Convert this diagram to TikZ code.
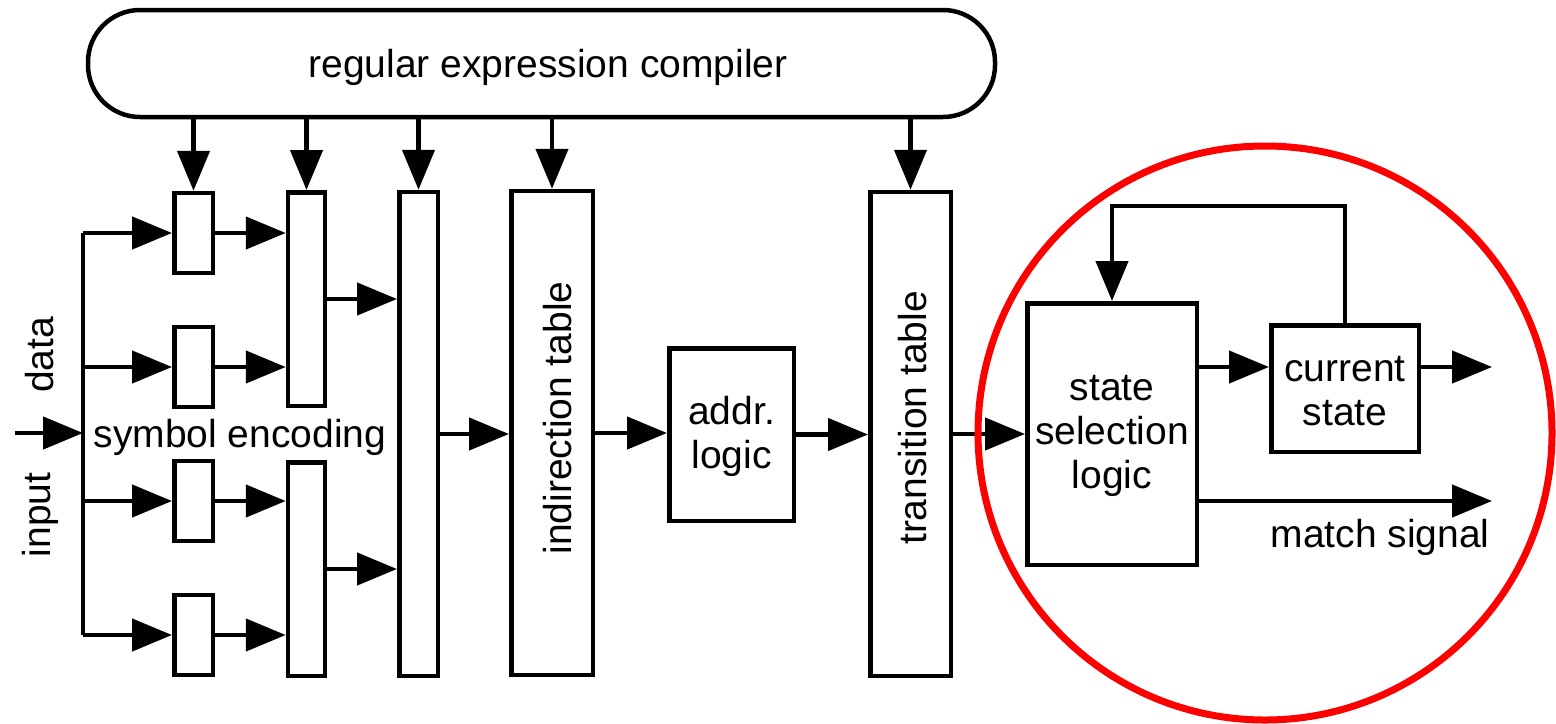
\documentclass[tikz,border=0pt]{standalone}
\usepackage{fontspec}
\setmainfont{Liberation Sans}
\usetikzlibrary{arrows.meta,calc}
\begin{document}
\begin{tikzpicture}[x=0.5pt,y=-0.5pt,
  every node/.style={font=\fontsize{19.5}{22}\selectfont},
  blk/.style={draw,line width=2.25pt,inner sep=0pt,fill=white},
  txt/.style={inner sep=0pt,align=center},
  arr/.style={line width=2.25pt,-{Triangle[length=20pt,width=16pt]}},
  ln/.style={line width=2.25pt}]
\useasboundingbox (0,0) rectangle (1556,723);

% compiler
\node[blk,rounded corners=26pt,minimum width=453.5pt,minimum height=53.5pt] (comp) at (541.5,63.5) {};
\node[txt] (comptxt) at (548,67) {regular expression compiler};

% small boxes
\foreach \n/\y in {s1/233,s2/367,s3/501,s4/635}
  \node[blk,minimum width=19.25pt,minimum height=40pt] (\n) at (193.5,\y) {};
% column 2
\node[blk,minimum width=18.5pt,minimum height=106.75pt] (c2a) at (306.5,299) {};
\node[blk,minimum width=18.5pt,minimum height=106.75pt] (c2b) at (306.5,569) {};
% column 3
\node[blk,minimum width=19.25pt,minimum height=242pt] (c3) at (418.5,434) {};
% indirection table
\node[blk,minimum width=40.75pt,minimum height=242pt] (ind) at (552,433) {};
\node[txt,rotate=90] (indtxt) at (558,418) {indirection table};
% addr logic
\node[blk,minimum width=62.25pt,minimum height=86.25pt] (addr) at (731.5,434.5) {};
\node[txt] (addrtxt) at (731.5,436) {addr.\\logic};
% transition table
\node[blk,minimum width=40.25pt,minimum height=242pt] (tt) at (910.5,434) {};
\node[txt,rotate=90] (tttxt) at (913,418) {transition table};
% state selection logic
\node[blk,minimum width=84.75pt,minimum height=130.75pt] (ssl) at (1112,434) {};
\node[txt] (ssltxt) at (1112,436) {state\\selection\\logic};
% current state
\node[blk,minimum width=73.75pt,minimum height=63.25pt] (cs) at (1345,388.5) {};
\node[txt] (cstxt) at (1345,391) {current\\state};

% labels
\node[txt,rotate=90] (data) at (40,355) {data};
\node[txt,rotate=90] (input) at (40,515) {input};
\node[txt] (symenc) at (240,437) {symbol encoding};
\node[txt,anchor=east] (match) at (1490,537) {match signal};

% compiler arrows
\foreach \t in {s1,c2a,c3,ind,tt}
  \draw[arr] (comp.south -| \t.north) -- (\t.north);

% input bus
\coordinate (in) at (15,433);
\coordinate (bus) at (83,433);
\draw[arr] (in) -- (bus);
\draw[ln] (83,233) -- (83,635);
\foreach \n in {s1,s2,s3,s4}
  \draw[arr] (bus |- \n.west) -- (\n.west);
% small boxes to column 2
\draw[arr] (s1.east) -- (s1.east -| c2a.west);
\draw[arr] (s2.east) -- (s2.east -| c2a.west);
\draw[arr] (s3.east) -- (s3.east -| c2b.west);
\draw[arr] (s4.east) -- (s4.east -| c2b.west);
% column 2 to column 3
\draw[arr] (c2a.east) -- (c2a.east -| c3.west);
\draw[arr] (c2b.east) -- (c2b.east -| c3.west);
% main chain
\draw[arr] (c3.east) -- (c3.east -| ind.west);
\draw[arr] (ind.east) -- (ind.east -| addr.west);
\draw[arr] (addr.east) -- (addr.east -| tt.west);
\draw[arr] (tt.east) -- (tt.east -| ssl.west);

% state part
\coordinate (co) at (1492,367);
\coordinate (ms) at (1492,501);
\coordinate (fb) at (1112,206);
\draw[arr] (ssl.east |- co) -- (cs.west |- co);
\draw[arr] (cs.east |- co) -- (co);
\draw[arr] (ssl.east |- ms) -- (ms);
\draw[arr] (cs.north) |- (fb) -- (ssl.north);

% red circle
\draw[red,line width=3.5pt] (1265,433) circle[radius=143.5pt];
\end{tikzpicture}
\end{document}
